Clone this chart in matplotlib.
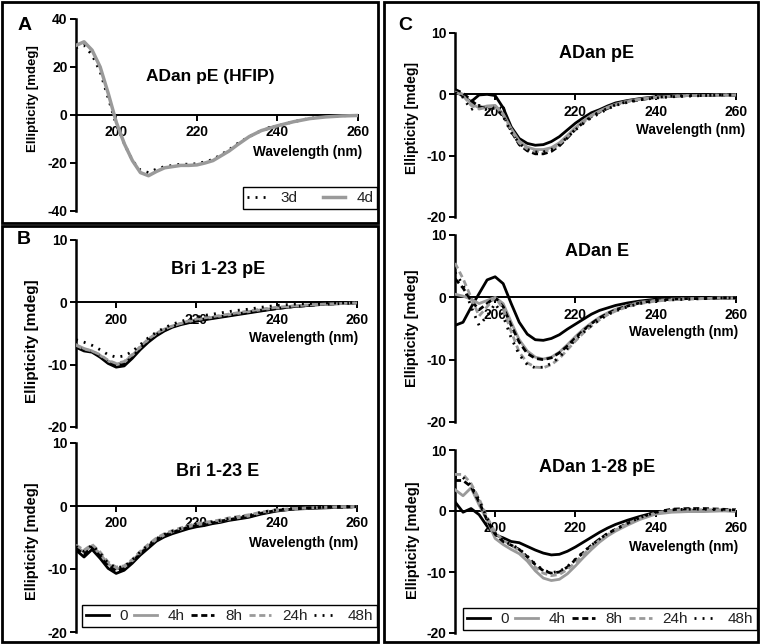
import matplotlib.pyplot as plt
from matplotlib.lines import Line2D

plt.rcParams['font.family'] = ['Liberation Sans', 'DejaVu Sans']

# wavelength grid (nm) shared by every spectrum
WL = [190, 192, 194, 196, 198, 200, 202, 204, 206, 208, 210, 212, 214, 216, 218,
      220, 222, 224, 226, 228, 230, 233, 236, 240, 244, 248, 252, 256, 260]

# panel A: ADan pE (HFIP)
A_3d = [28, 29, 25, 18, 7, -4, -12, -19, -23, -24, -22.5, -21.5, -21, -20.5, -20.5,
        -20.3, -19.5, -18.5, -16.5, -14.5, -12, -9, -6.5, -4.5, -2.8, -1.4, -0.7, -0.3, -0.2]
A_4d = [29, 30.5, 27, 20, 9, -3, -12, -19, -24, -25.3, -23.5, -22, -21.5, -21, -21,
        -20.8, -20, -19, -17, -15, -12.5, -9, -6.5, -4.5, -2.8, -1.5, -0.8, -0.4, -0.2]

TIMES = ['0', '4h', '8h', '24h', '48h']

# panel B top: Bri 1-23 pE
BRI_PE = {
    '0':   [-7.2, -7.8, -8.0, -8.8, -9.8, -10.4, -10.2, -9.0, -7.6, -6.4, -5.4, -4.6, -4.0, -3.6, -3.3,
            -3.0, -2.8, -2.6, -2.4, -2.2, -2.0, -1.7, -1.4, -1.0, -0.7, -0.5, -0.3, -0.2, -0.1],
    '4h':  [-6.8, -7.4, -7.8, -8.5, -9.4, -9.9, -9.6, -8.5, -7.2, -6.0, -5.0, -4.3, -3.8, -3.4, -3.1,
            -2.8, -2.6, -2.4, -2.2, -2.0, -1.8, -1.5, -1.2, -0.9, -0.6, -0.4, -0.3, -0.2, -0.1],
    '8h':  [-7.0, -7.6, -7.9, -8.6, -9.6, -10.1, -9.9, -8.8, -7.4, -6.2, -5.2, -4.5, -3.9, -3.5, -3.2,
            -2.9, -2.7, -2.5, -2.3, -2.1, -1.9, -1.6, -1.3, -1.0, -0.7, -0.5, -0.3, -0.2, -0.1],
    '24h': [-6.9, -7.5, -7.8, -8.4, -9.3, -9.8, -9.5, -8.4, -7.1, -5.9, -5.0, -4.3, -3.8, -3.4, -3.0,
            -2.7, -2.5, -2.3, -2.1, -1.9, -1.7, -1.4, -1.1, -0.8, -0.6, -0.4, -0.3, -0.2, -0.1],
    '48h': [-6.0, -6.4, -6.9, -7.6, -8.4, -8.8, -8.6, -7.9, -6.8, -5.7, -4.8, -4.1, -3.5, -3.1, -2.7,
            -2.4, -2.1, -1.9, -1.7, -1.5, -1.3, -1.1, -0.8, -0.5, -0.3, -0.2, -0.1, -0.1, 0.0],
}

# panel B bottom: Bri 1-23 E
BRI_E = {
    '0':   [-7.0, -8.1, -6.9, -8.3, -9.9, -10.7, -10.2, -9.1, -7.8, -6.7, -5.6, -4.9, -4.4, -4.0, -3.6,
            -3.3, -3.1, -2.8, -2.6, -2.3, -2.1, -1.8, -1.3, -0.8, -0.5, -0.4, -0.3, -0.2, -0.1],
    '4h':  [-6.5, -7.3, -6.3, -7.6, -9.2, -10.0, -9.7, -8.7, -7.4, -6.3, -5.3, -4.6, -4.1, -3.7, -3.3,
            -3.0, -2.8, -2.6, -2.4, -2.1, -1.9, -1.6, -1.1, -0.7, -0.5, -0.3, -0.2, -0.2, -0.1],
    '8h':  [-6.7, -7.7, -6.5, -7.9, -9.5, -10.3, -9.9, -8.9, -7.6, -6.5, -5.4, -4.7, -4.2, -3.8, -3.4,
            -3.1, -2.9, -2.7, -2.4, -2.2, -2.0, -1.7, -1.2, -0.7, -0.5, -0.3, -0.2, -0.2, -0.1],
    '24h': [-6.2, -7.0, -6.1, -7.3, -8.9, -9.7, -9.5, -8.5, -7.2, -6.1, -5.1, -4.4, -3.9, -3.5, -3.1,
            -2.8, -2.6, -2.4, -2.2, -1.9, -1.7, -1.4, -1.0, -0.6, -0.4, -0.3, -0.2, -0.1, -0.1],
    '48h': [-6.4, -7.2, -6.2, -7.5, -9.1, -9.8, -9.6, -8.6, -7.3, -6.2, -5.2, -4.5, -4.0, -3.6, -3.2,
            -2.9, -2.7, -2.5, -2.3, -2.0, -1.8, -1.5, -1.0, -0.6, -0.4, -0.3, -0.2, -0.1, -0.1],
}

# panel C top: ADan pE
ADAN_PE = {
    '0':   [0.5, -0.3, -1.2, -0.1, 0.0, -0.2, -2.2, -5.3, -7.2, -8.0, -8.3, -8.2, -7.7, -6.9, -5.8,
            -4.7, -3.8, -3.0, -2.5, -1.9, -1.4, -1.0, -0.7, -0.4, -0.3, -0.2, -0.2, -0.1, -0.1],
    '4h':  [0.6, 0.0, -1.5, -2.2, -1.9, -1.8, -3.2, -5.6, -7.6, -8.6, -9.0, -9.0, -8.7, -7.9, -6.7,
            -5.4, -4.3, -3.4, -2.7, -2.1, -1.6, -1.1, -0.8, -0.5, -0.3, -0.2, -0.2, -0.1, -0.1],
    '8h':  [0.8, 0.2, -1.0, -2.0, -2.3, -2.0, -3.4, -6.0, -8.2, -9.2, -9.7, -9.7, -9.3, -8.4, -7.1,
            -5.7, -4.6, -3.6, -2.9, -2.3, -1.7, -1.2, -0.9, -0.5, -0.3, -0.2, -0.2, -0.1, -0.1],
    '24h': [0.4, -0.2, -1.8, -2.4, -2.1, -1.9, -3.3, -5.8, -7.9, -8.9, -9.3, -9.3, -9.0, -8.1, -6.9,
            -5.6, -4.5, -3.5, -2.8, -2.2, -1.7, -1.2, -0.8, -0.5, -0.3, -0.2, -0.2, -0.1, -0.1],
    '48h': [0.3, -0.5, -2.5, -1.8, -2.6, -2.2, -3.6, -6.2, -8.0, -9.0, -9.4, -9.4, -9.0, -8.2, -7.0,
            -5.8, -4.7, -3.8, -3.1, -2.4, -1.8, -1.3, -0.9, -0.6, -0.4, -0.3, -0.2, -0.1, -0.1],
}

# panel C middle: ADan E
ADAN_E = {
    '0':   [-4.5, -4.0, -1.6, 0.6, 2.8, 3.3, 2.2, -1.0, -4.0, -5.9, -6.8, -6.9, -6.6, -6.0, -5.1,
            -4.3, -3.5, -2.7, -2.1, -1.7, -1.3, -0.9, -0.6, -0.3, -0.2, -0.2, -0.1, -0.1, -0.1],
    '4h':  [0.5, 0.2, -0.3, -1.0, -0.5, 0.0, -1.0, -4.0, -6.8, -8.6, -9.6, -9.9, -9.6, -8.8, -7.6,
            -6.3, -5.1, -4.1, -3.2, -2.5, -1.9, -1.3, -0.8, -0.5, -0.3, -0.2, -0.2, -0.1, -0.1],
    '8h':  [3.0, 1.5, -0.5, -2.0, -1.0, 0.0, -1.5, -4.5, -7.2, -9.0, -9.8, -10.0, -9.7, -8.9, -7.8,
            -6.5, -5.3, -4.2, -3.3, -2.6, -2.0, -1.4, -0.9, -0.5, -0.3, -0.2, -0.2, -0.1, -0.1],
    '24h': [5.5, 3.0, 0.0, -3.0, -1.5, 0.0, -1.8, -5.5, -8.8, -10.5, -11.2, -11.3, -10.8, -9.8, -8.4,
            -7.0, -5.7, -4.6, -3.6, -2.8, -2.2, -1.5, -1.0, -0.6, -0.4, -0.3, -0.2, -0.1, -0.1],
    '48h': [4.0, 2.0, -1.5, -4.5, -3.0, -1.0, -3.0, -6.5, -9.2, -10.8, -11.3, -11.2, -10.6, -9.6, -8.2,
            -6.8, -5.6, -4.5, -3.6, -2.8, -2.2, -1.5, -1.0, -0.6, -0.4, -0.3, -0.2, -0.1, -0.1],
}

# panel C bottom: ADan 1-28 pE
ADAN_128 = {
    '0':   [1.5, -0.2, 0.4, -0.6, -2.5, -3.9, -4.4, -5.0, -5.2, -5.8, -6.4, -6.9, -7.2, -7.1, -6.6,
            -5.9, -5.1, -4.3, -3.5, -2.8, -2.2, -1.5, -0.9, -0.2, 0.1, 0.1, 0.1, 0.1, 0.0],
    '4h':  [3.5, 2.5, 3.8, 1.0, -1.5, -4.5, -5.5, -6.3, -7.0, -8.2, -9.8, -11.0, -11.4, -11.2, -10.3,
            -9.0, -7.6, -6.3, -5.1, -4.1, -3.3, -2.3, -1.4, -0.5, -0.2, -0.1, -0.1, 0.0, 0.0],
    '8h':  [5.0, 5.0, 4.0, 1.5, -1.5, -3.8, -5.0, -5.6, -6.3, -7.5, -8.8, -9.8, -10.2, -10.0, -9.2,
            -8.0, -6.8, -5.6, -4.6, -3.7, -3.0, -2.0, -1.1, -0.2, 0.3, 0.4, 0.4, 0.3, 0.2],
    '24h': [6.0, 6.0, 4.5, 2.0, -1.0, -3.5, -4.8, -5.6, -6.5, -7.8, -9.2, -10.2, -10.6, -10.4, -9.6,
            -8.4, -7.1, -5.9, -4.8, -3.9, -3.1, -2.1, -1.2, -0.3, 0.1, 0.2, 0.2, 0.2, 0.1],
    '48h': [5.5, 5.5, 4.2, 1.8, -1.2, -3.6, -4.9, -5.5, -6.2, -7.4, -8.7, -9.7, -10.1, -9.9, -9.1,
            -7.9, -6.7, -5.6, -4.6, -3.7, -3.0, -2.0, -1.1, -0.2, 0.2, 0.3, 0.3, 0.2, 0.1],
}

W, H = 760, 644
GRAY = '#9a9a9a'
LW = 2.0
STYLE = {
    '0':   dict(color='black', ls='-'),
    '4h':  dict(color=GRAY, ls='-'),
    '8h':  dict(color='black', ls=(0, (2.2, 1.3))),
    '24h': dict(color=GRAY, ls=(0, (2.2, 1.3))),
    '48h': dict(color='black', ls=(0, (0.7, 2.2))),
}

fig = plt.figure(figsize=(W / 100, H / 100), dpi=100)


def fx(x):
    return x / W


def fy(y):
    return 1 - y / H


def axes_px(l, t, r, b):
    return fig.add_axes([fx(l), fy(b), (r - l) / W, (b - t) / H])


def style_axes(ax, ylim, yticks):
    ax.set_xlim(190, 260)
    ax.set_ylim(*ylim)
    for s in ['top', 'right']:
        ax.spines[s].set_visible(False)
    ax.spines['left'].set_linewidth(1.8)
    ax.spines['bottom'].set_linewidth(1.4)
    ax.spines['bottom'].set_position(('data', 0))
    ax.set_xticks([200, 220, 240, 260], labels=['200', '220', '240', '260'], fontweight='bold')
    ax.set_yticks(yticks, labels=[str(v) for v in yticks], fontweight='bold')
    ax.tick_params(direction='out', length=4, width=1.4, labelsize=10, pad=2)
    ax.tick_params(axis='x', pad=3.5)
    ax.patch.set_alpha(0)


def label_px(x, y, s, **kw):
    fig.text(fx(x), fy(y), s, **kw)


# panel borders
for (x0, y0, x1, y1) in [(2, 2, 378, 223), (2, 226, 378, 642), (384, 2, 758, 642)]:
    fig.add_artist(plt.Rectangle((fx(x0), fy(y1)), (x1 - x0) / W, (y1 - y0) / H,
                                 fill=False, lw=2.0, ec='black', transform=fig.transFigure))

# panel A
axA = axes_px(76, 19, 358, 211)
style_axes(axA, (-40, 40), [-40, -20, 0, 20, 40])
axA.plot(WL, A_3d, color='black', ls=(0, (0.7, 2.2)), lw=LW, zorder=3)
axA.plot(WL, A_4d, color=GRAY, ls='-', lw=2.5, zorder=3)

# time-course panels
panels = [
    ((76, 240, 357, 427), BRI_PE, 'Bri 1-23 pE', (218, 270), (358, 338), (32, 341), 11),
    ((76, 443, 357, 632), BRI_E, 'Bri 1-23 E', (218, 471), (358, 543), (32, 541), 10.5),
    ((455, 33, 736, 217), ADAN_PE, 'ADan pE', (597, 53), (745, 130), (412, 118), 10),
    ((455, 235, 736, 422), ADAN_E, 'ADan E', (597, 252), (738, 332), (412, 328), 10.5),
    ((455, 450, 736, 633), ADAN_128, 'ADan 1-28 pE', (597, 467), (738, 547), (413, 540), 10.5),
]
for rect, series, title, t_xy, w_xy, y_xy, ysize in panels:
    ax = axes_px(*rect)
    style_axes(ax, (-20, 10), [-20, -10, 0, 10])
    for t in TIMES:
        ax.plot(WL, series[t], lw=LW, zorder=3, **STYLE[t])
    label_px(*t_xy, title, ha='center', va='center', fontsize=13, fontweight='bold')
    label_px(*w_xy, 'Wavelength (nm)', ha='right', va='center', fontsize=9.8, fontweight='bold')
    label_px(*y_xy, 'Ellipticity [mdeg]', ha='center', va='center', rotation=90,
             fontsize=ysize, fontweight='bold')

label_px(210, 77, 'ADan pE (HFIP)', ha='center', va='center', fontsize=12.5, fontweight='bold')
label_px(362, 152, 'Wavelength (nm)', ha='right', va='center', fontsize=9.8, fontweight='bold')
label_px(33, 99, 'Ellipticity [mdeg]', ha='center', va='center', rotation=90,
         fontsize=9.5, fontweight='bold')

# panel letters
label_px(25, 26, 'A', ha='center', va='center', fontsize=14, fontweight='bold')
label_px(24, 240, 'B', ha='center', va='center', fontsize=14, fontweight='bold')
label_px(405, 25, 'C', ha='center', va='center', fontsize=14, fontweight='bold')


def legend_px(handles, labels, box):
    x0, y0, x1, y1 = box
    leg = fig.legend(handles, labels, loc='center', ncol=len(labels), mode='expand',
                     bbox_to_anchor=(fx(x0), fy(y1), (x1 - x0) / W, (y1 - y0) / H),
                     frameon=True, fancybox=False, edgecolor='black', framealpha=1,
                     fontsize=11, handlelength=1.5, handletextpad=0.7, borderpad=0.25,
                     borderaxespad=0)
    leg.get_frame().set_linewidth(1.0)
    for txt in leg.get_texts():
        txt.set_color('#222222')
    return leg


legend_px([Line2D([], [], color='black', ls=(0, (0.7, 2.2)), lw=LW),
           Line2D([], [], color=GRAY, lw=2.5)], ['3d', '4d'], (243, 183, 377, 213))

time_handles = [Line2D([], [], lw=LW, **STYLE[t]) for t in TIMES]
legend_px(time_handles, TIMES, (82, 605, 377, 627))
legend_px(time_handles, TIMES, (463, 605, 757, 633))

fig.savefig('out.png', dpi=100)
